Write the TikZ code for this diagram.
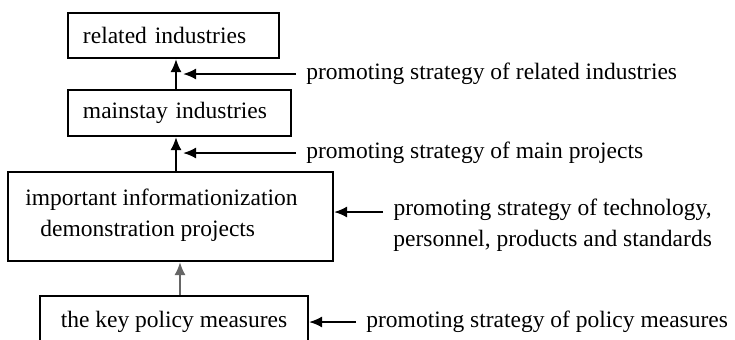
\documentclass[tikz,border=0pt]{standalone}
\usepackage{fontspec}
\setmainfont{Liberation Serif}
\usetikzlibrary{arrows.meta}
\tikzset{
  every node/.style = {font=\fontsize{11.75}{15.5}\selectfont},
  box/.style = {draw, line width=1pt, inner xsep=7.5pt, inner ysep=0pt, align=left},
  lab/.style = {anchor=west, inner xsep=5pt, inner ysep=0pt},
  arr/.style = {line width=1pt, -{Latex[length=6.5pt,width=5.5pt]}}
}
\begin{document}
\begin{tikzpicture}[x=0.5pt, y=-0.5pt]
\useasboundingbox (0,0) rectangle (735,339);
\node[box, text width=90.5pt, minimum height=22.5pt] (related) at (173.5,35.5) {related industries};
\node[box, text width=96.5pt, minimum height=23pt] (mainstay) at (179.5,113) {mainstay industries};
\node[box, minimum width=162.5pt, minimum height=44.5pt] (demo) at (170.5,216.5) {};
\node[align=left, anchor=west, inner sep=0pt] (demotext) at (25,215) {important informationization\\\hspace*{7.5pt}demonstration projects};
\node[box, align=center, minimum width=134pt, minimum height=26pt] (policy) at (174,322) {the key policy measures};
% strategies
\node[lab] (srel) at (296,74) {promoting strategy of related industries};
\node[lab] (smain) at (296,153) {promoting strategy of main projects};
\node[lab, align=center] (stech) at (383,225) {promoting strategy of technology,\\personnel, products and standards};
\node[lab] (spol) at (356,322) {promoting strategy of policy measures};
\coordinate (vup) at (176,0);
\coordinate (vlow) at (180,0);
\coordinate (trel) at (183,74);
\coordinate (tmain) at (183,153);
% arrows
\draw[arr] (mainstay.north -| vup) -- (related.south -| vup);
\draw[arr] (demo.north -| vup) -- (mainstay.south -| vup);
\draw[arr, draw=black!60, fill=black] (policy.north -| vlow) -- (demo.south -| vlow);
\draw[arr] (srel.west) -- (trel);
\draw[arr] (smain.west) -- (tmain);
\draw[arr] (stech.west |- 0,212) -- (demo.east |- 0,212);
\draw[arr] (spol.west) -- (policy.east);
\end{tikzpicture}
\end{document}
